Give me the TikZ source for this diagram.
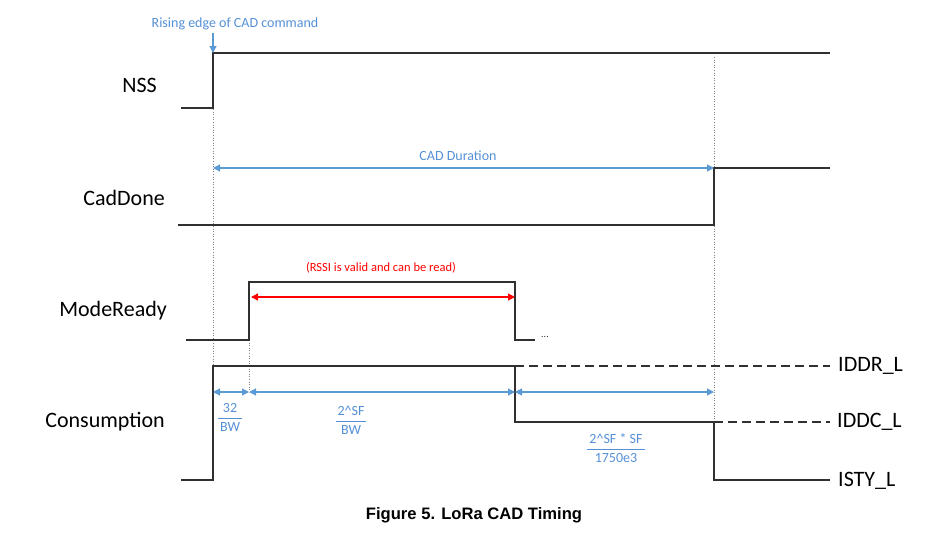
\documentclass[tikz,border=0pt]{standalone}
\usepackage{fontspec}
\setmainfont{Carlito}
\newfontfamily\capfont{Liberation Sans}
\usetikzlibrary{arrows.meta}
\definecolor{dimblue}{HTML}{5B9BD5}
\definecolor{txtblue}{HTML}{5590D6}
\definecolor{sigcol}{HTML}{303030}
\definecolor{redcol}{HTML}{FF0000}
\newcommand{\blfrac}[2]{{\setlength\arrayrulewidth{1pt}\renewcommand\arraystretch{1.05}\begin{tabular}{@{\hspace{2pt}}c@{\hspace{2pt}}}#1\\\hline #2\end{tabular}}}
\begin{document}
\begin{tikzpicture}[x=1pt,y=-1pt,
  wave/.style={draw=sigcol, line width=1.4pt, line join=miter},
  dashwave/.style={draw=sigcol, line width=1.4pt, dash pattern=on 9pt off 5pt},
  guide/.style={draw=gray, line width=0.9pt, dash pattern=on 1pt off 1.6pt},
  dimarrow/.style={draw=dimblue, line width=1.2pt, {Triangle[length=7pt,width=7pt]}-{Triangle[length=7pt,width=7pt]}},
  downarrow/.style={draw=dimblue, line width=1.2pt, -{Triangle[length=7pt,width=7pt]}},
  redarrow/.style={draw=redcol, line width=1.4pt, {Triangle[length=7pt,width=7pt]}-{Triangle[length=7pt,width=7pt]}},
  siglabel/.style={font=\fontsize{22}{26}\selectfont, text=black, inner sep=0pt, anchor=east},
  lvllabel/.style={font=\fontsize{22}{26}\selectfont, text=black, inner sep=0pt, anchor=west},
  bluetxt/.style={font=\fontsize{14}{17}\selectfont, text=txtblue, inner sep=0pt},
  redtxt/.style={font=\fontsize{12.5}{15}\selectfont, text=redcol, inner sep=0pt},
  fractxt/.style={font=\fontsize{14}{17}\selectfont, text=txtblue, inner sep=0pt},
  captxt/.style={font=\capfont\bfseries\fontsize{16.6}{20}\selectfont, text=black, inner sep=0pt}
  ]
\useasboundingbox (0,0) rectangle (926,538);

% signal labels
\node[siglabel] (lnss) at (157,85) {NSS};
\node[siglabel] (lcad) at (165,198) {CadDone};
\node[siglabel] (lmode) at (167,311) {ModeReady};
\node[siglabel] (lcons) at (165,422) {Consumption};
\node[lvllabel] (lddr) at (838,366) {IDDR\_L};
\node[lvllabel] (lddc) at (837,422) {IDDC\_L};
\node[lvllabel] (lsty) at (838,481) {ISTY\_L};

% key time coordinates
\coordinate (nss0) at (181,108);
\coordinate (nss1) at (213,108);
\coordinate (nss2) at (213,53);
\coordinate (nss3) at (830,53);

\coordinate (cd0) at (178,225);
\coordinate (cd1) at (714,225);
\coordinate (cd2) at (714,168);
\coordinate (cd3) at (830,168);

\coordinate (mr0) at (186,340);
\coordinate (mr1) at (249,340);
\coordinate (mr2) at (249,282);
\coordinate (mr3) at (515,282);
\coordinate (mr4) at (515,340);
\coordinate (mr5) at (535,340);

\coordinate (cs0) at (181,480);
\coordinate (cs1) at (213,480);
\coordinate (cs2) at (213,366);
\coordinate (cs3) at (515,366);
\coordinate (cs4) at (515,422);
\coordinate (cs5) at (714,422);
\coordinate (cs6) at (714,480);
\coordinate (cs7) at (830,480);
\coordinate (ddrend) at (830,366);
\coordinate (ddcend) at (830,422);

% guides (dotted)
\coordinate (g1top) at (213,57);
\coordinate (g3top) at (714,57);
\coordinate (d0) at (213,392);
\coordinate (d1) at (249,392);
\coordinate (d2) at (515,392);
\coordinate (d3) at (714,392);
\draw[guide] (g1top) -- (cs2);
\draw[guide] (mr1) -- (d1);
\draw[guide] (g3top) -- (cs5);

% waveforms
\draw[wave] (nss0) -- (nss1) -- (nss2) -- (nss3);
\draw[wave] (cd0) -- (cd1) -- (cd2) -- (cd3);
\draw[wave] (mr0) -- (mr1) -- (mr2) -- (mr3) -- (mr4) -- (mr5);
\node[font=\fontsize{10}{12}\selectfont, text=sigcol, inner sep=0pt] (mrdots) at (545,337) {...};
\draw[wave] (cs0) -- (cs1) -- (cs2) -- (cs3) -- (cs4) -- (cs5) -- (cs6) -- (cs7);
\draw[dashwave] (cs3) -- (ddrend);
\draw[dashwave] (cs5) -- (ddcend);

% rising edge annotation
\node[bluetxt] (rise) at (235,24) {Rising edge of CAD command};
\draw[downarrow] (rise.south -| nss2) ++(0,3) -- (nss2);

% CAD duration
\coordinate (cadL) at (213,168);
\node[bluetxt] (cadtxt) at (458,156) {CAD Duration};
\draw[dimarrow] (cadL) -- (cd2);

% RSSI valid
\coordinate (rL) at (251,297);
\coordinate (rR) at (515,297);
\node[redtxt] (rssi) at (381,268) {(RSSI is valid and can be read)};
\draw[redarrow] (rL) -- (rR);

% timing dimension arrows
\draw[dimarrow] (d0) -- (d1);
\draw[dimarrow] (d1) -- (d2);
\draw[dimarrow] (d2) -- (d3);

% fractions
\node[fractxt] (f1) at (230,418) {\blfrac{32}{BW}};
\node[fractxt] (f2) at (351,421) {\blfrac{2\textasciicircum SF}{BW}};
\node[fractxt] (f3) at (616,449) {\blfrac{2\textasciicircum SF * SF}{1750e3}};

% caption
\node[captxt] (cap) at (474,515) {Figure 5. LoRa CAD Timing};
\end{tikzpicture}
\end{document}
